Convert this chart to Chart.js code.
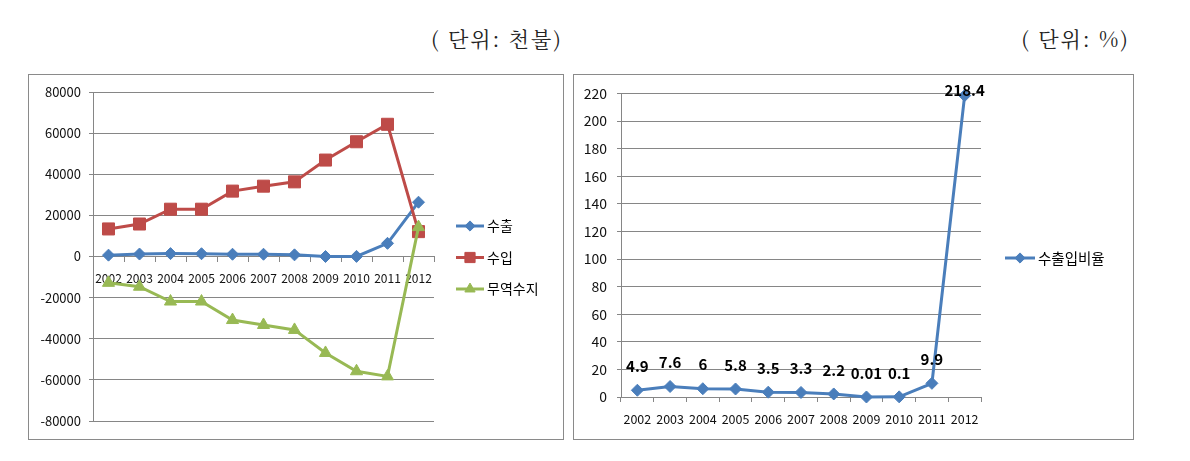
<!DOCTYPE html>
<html>
<head>
<meta charset="utf-8">
<script src="https://cdn.jsdelivr.net/npm/chart.js@4.4.0/dist/chart.umd.min.js"></script>
<style>
body{margin:0;background:#fff;width:1190px;height:461px;position:relative;overflow:hidden;font-family:"Noto Sans CJK KR",sans-serif;}
.unit{position:absolute;top:27px;font-family:"Noto Serif CJK KR","Noto Sans CJK KR",serif;font-size:21px;line-height:22px;color:#222;white-space:nowrap;text-align:right;letter-spacing:2px;}
.box{position:absolute;top:74px;height:364px;border:1px solid #8a8a8a;}
.box canvas{position:absolute;left:0;top:0;}
</style>
</head>
<body>
<div class="unit" style="right:627px">( 단위:  천불)</div>
<div class="unit" style="right:60px">( 단위:  %)</div>
<div class="box" style="left:28px;width:534px"><canvas id="trade" width="534" height="364"></canvas></div>
<div class="box" style="left:573px;width:559px"><canvas id="ratio" width="559" height="364"></canvas></div>
<script>
// data
const years=['2002','2003','2004','2005','2006','2007','2008','2009','2010','2011','2012'];
const exportVals=[660,1200,1400,1350,1100,1100,800,5,56,6400,26400];
const importVals=[13400,15800,23000,23000,31800,34200,36300,46900,55800,64300,12100];
const balanceVals=[-12800,-14700,-21900,-21900,-30900,-33300,-35700,-46900,-55800,-58300,14300];
const ratioVals=[4.9,7.6,6,5.8,3.5,3.3,2.2,0.01,0.1,9.9,218.4];

const FONT='"Noto Sans CJK KR", sans-serif';
const GRID='#868686';

// legend: line + marker + label, like the spreadsheet one
const lineLegend={id:'lineLegend',afterDraw(chart,args,opts){
  const ctx=chart.ctx; ctx.save();
  const list=opts.order.map(i=>chart.data.datasets[i]);
  list.forEach((ds,k)=>{
    const x=opts.x, y=opts.y+k*opts.gap;
    ctx.strokeStyle=ds.borderColor; ctx.lineWidth=3;
    ctx.beginPath(); ctx.moveTo(x,y); ctx.lineTo(x+opts.len,y); ctx.stroke();
    ctx.fillStyle=ds.backgroundColor; ctx.lineWidth=1;
    Chart.helpers.drawPoint(ctx,{pointStyle:ds.pointStyle,radius:ds.pointRadius*0.85,borderWidth:1,rotation:0},x+opts.len/2,y);
    ctx.fillStyle='#000'; ctx.font=opts.font; ctx.textAlign='left'; ctx.textBaseline='middle';
    ctx.fillText(ds.label,x+opts.len+3,y);
  });
  ctx.restore();
}};

const valueLabels={id:'valueLabels',afterDatasetsDraw(chart){
  const ctx=chart.ctx; ctx.save();
  ctx.font='bold 15px '+FONT; ctx.fillStyle='#000'; ctx.textAlign='center'; ctx.textBaseline='middle';
  chart.getDatasetMeta(0).data.forEach((pt,i)=>{
    const y=Math.max(pt.y-24,chart.chartArea.top-3);
    ctx.fillText(String(ratioVals[i]),pt.x,y);
  });
  ctx.restore();
}};

function series(label,data,color,style,r,order){
  return {label,data,borderColor:color,backgroundColor:color,borderWidth:3,tension:0,
    pointStyle:style,pointRadius:r,pointHoverRadius:r,pointBorderWidth:1,clip:false,order};
}

new Chart(document.getElementById('trade'),{
  type:'line',
  data:{labels:years,datasets:[
    series('수출',exportVals,'#4a7ebb','rectRot',6,2),
    series('수입',importVals,'#be4b48','rect',8.5,1),
    series('무역수지',balanceVals,'#98b954','triangle',7,0)
  ]},
  options:{responsive:false,animation:false,
    layout:{padding:{left:0,right:129,top:17,bottom:18}},
    plugins:{legend:{display:false},tooltip:{enabled:false},
      lineLegend:{x:427,y:151,gap:31.5,len:28,font:'14px '+FONT,order:[0,1,2]}},
    scales:{
      x:{position:{y:0},offset:true,
        grid:{display:true,drawOnChartArea:false,drawTicks:true,tickLength:5,color:GRID,offset:true},
        border:{display:true,color:GRID},
        ticks:{font:{size:12,family:FONT},color:'#111',padding:10,maxRotation:0,autoSkip:false}},
      y:{min:-80000,max:80000,
        ticks:{stepSize:20000,font:{size:13,family:FONT},color:'#111',padding:8,callback:v=>String(v)},
        grid:{color:GRID,tickLength:4},border:{color:GRID},
        afterFit(s){s.width=64;}}
    }},
  plugins:[lineLegend]
});

new Chart(document.getElementById('ratio'),{
  type:'line',
  data:{labels:years,datasets:[
    series('수출입비율',ratioVals,'#4a7ebb','rectRot',6,0)
  ]},
  options:{responsive:false,animation:false,
    layout:{padding:{left:0,right:152,top:17,bottom:0}},
    plugins:{legend:{display:false},tooltip:{enabled:false},
      lineLegend:{x:431,y:183,gap:30,len:30,font:'14.5px '+FONT,order:[0]}},
    scales:{
      x:{offset:true,
        grid:{display:true,drawOnChartArea:false,drawTicks:true,tickLength:5,color:GRID,offset:true},
        border:{display:true,color:GRID},
        ticks:{font:{size:12.5,family:FONT},color:'#111',padding:10,maxRotation:0,autoSkip:false},
        afterFit(s){s.height=42;}},
      y:{min:0,max:220,
        ticks:{stepSize:20,font:{size:14,family:FONT},color:'#111',padding:10},
        grid:{color:GRID,tickLength:4},border:{color:GRID},
        afterFit(s){s.width=47;}}
    }},
  plugins:[lineLegend,valueLabels]
});
</script>
</body>
</html>
